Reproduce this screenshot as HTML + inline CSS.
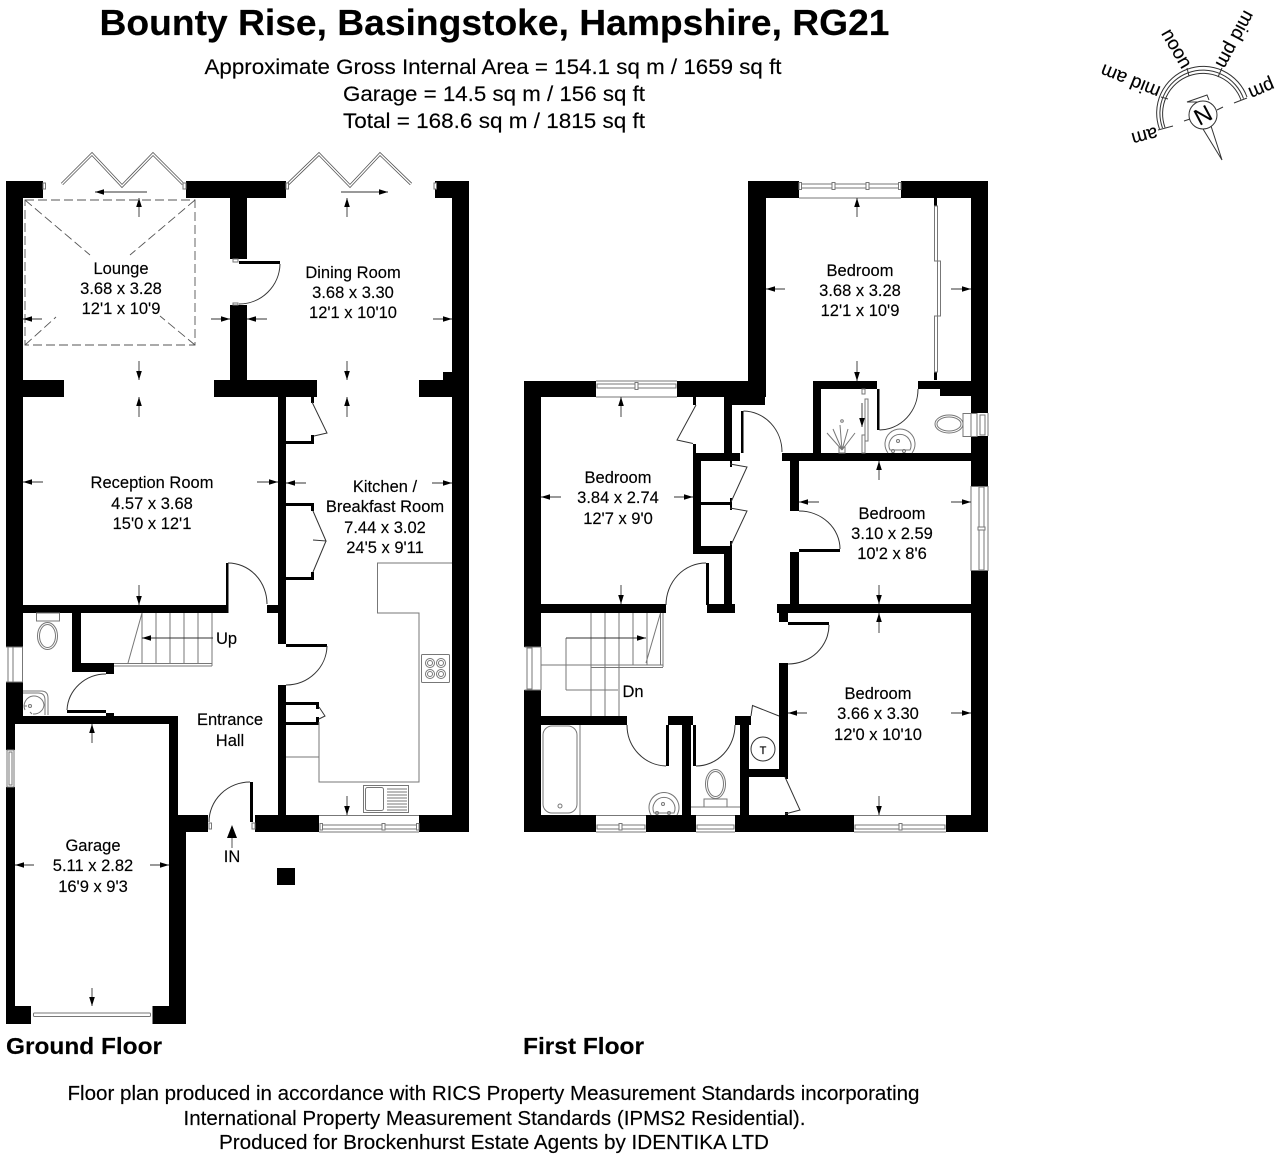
<!DOCTYPE html>
<html lang="en"><head><meta charset="utf-8"><title>Bounty Rise floor plan</title>
<style>
html,body{margin:0;padding:0;background:#fff}
svg{display:block}
text{font-family:"Liberation Sans",Arial,sans-serif;fill:#000;stroke:#000;stroke-width:.15}
.r text,text.r{font-size:16.5px;text-anchor:middle}
.ar line{stroke:#333;stroke-width:.9;marker-end:url(#a)}
.th{fill:none;stroke:#333;stroke-width:1}
.gr{fill:none;stroke:#777;stroke-width:1}
.wn{fill:#fff;stroke:#777;stroke-width:1}
.dash{fill:none;stroke:#555;stroke-width:.9;stroke-dasharray:9 4}
</style></head><body>
<svg width="1280" height="1160" viewBox="0 0 1280 1160" xmlns="http://www.w3.org/2000/svg">
<defs><marker id="a" markerUnits="userSpaceOnUse" markerWidth="10" markerHeight="7" refX="9" refY="3.5" orient="auto"><path d="M0,0.7L9,3.5L0,6.3z" fill="#000"/></marker></defs>
<rect width="1280" height="1160" fill="#fff"/>

<!-- headings -->
<text x="494.5" y="35" font-size="36" font-weight="700" text-anchor="middle" textLength="790" lengthAdjust="spacingAndGlyphs">Bounty Rise, Basingstoke, Hampshire, RG21</text>
<text x="493" y="74" font-size="21.500" text-anchor="middle" textLength="577" lengthAdjust="spacingAndGlyphs">Approximate Gross Internal Area = 154.1 sq m / 1659 sq ft</text>
<text x="494" y="101" font-size="21.500" text-anchor="middle" textLength="302" lengthAdjust="spacingAndGlyphs">Garage = 14.5 sq m / 156 sq ft</text>
<text x="494" y="128" font-size="21.500" text-anchor="middle" textLength="302" lengthAdjust="spacingAndGlyphs">Total = 168.6 sq m / 1815 sq ft</text>
<text x="6" y="1054" font-size="23.500" font-weight="700" textLength="156" lengthAdjust="spacingAndGlyphs">Ground Floor</text>
<text x="523" y="1054" font-size="23.500" font-weight="700" textLength="121" lengthAdjust="spacingAndGlyphs">First Floor</text>
<text x="493.500" y="1100" font-size="20" text-anchor="middle" textLength="852" lengthAdjust="spacingAndGlyphs">Floor plan produced in accordance with RICS Property Measurement Standards incorporating</text>
<text x="494.500" y="1125" font-size="20" text-anchor="middle" textLength="622" lengthAdjust="spacingAndGlyphs">International Property Measurement Standards (IPMS2 Residential).</text>
<text x="494" y="1149" font-size="20" text-anchor="middle" textLength="550" lengthAdjust="spacingAndGlyphs">Produced for Brockenhurst Estate Agents by IDENTIKA LTD</text>

<!-- compass -->
<g fill="none" stroke="#333" stroke-width="1">
<path d="M1159.500,129 A46,46 0 0 1 1247,97"/>
<path d="M1162.500,128 A43,43 0 0 1 1243.500,98.500"/>
<path d="M1165,127.500 A40,40 0 0 1 1241,100"/>
<path d="M1158,130L1173,126M1247,98L1234,103M1187,68L1189,76M1222,68L1218,77M1161,97L1168,99"/>
<circle cx="1203" cy="115" r="14"/>
<path d="M1203,129L1222,160L1211,126M1184,121L1190,119M1217,110L1223,107M1197,102L1187,102L1207,95L1209,100"/>
</g>
<text transform="translate(1203,115) rotate(-28)" font-size="23" text-anchor="middle" dy="8">N</text>
<g font-size="19" text-anchor="middle">
<text transform="translate(1177.500,48) rotate(60)" dy="7">noon</text>
<text transform="translate(1236,40) rotate(118)" dy="7">mid pm</text>
<text transform="translate(1262,90) rotate(157)" dy="7">pm</text>
<text transform="translate(1145,137) rotate(165)" dy="7">am</text>
<text transform="translate(1130,82) rotate(202)" dy="7">mid am</text>
</g>

<!-- ===== GROUND FLOOR WALLS ===== -->
<g fill="#000">
<rect x="6" y="181" width="37" height="17"/>
<rect x="186" y="181" width="100" height="17"/>
<rect x="435" y="181" width="34" height="17"/>
<rect x="6" y="181" width="17" height="466"/>
<rect x="452" y="181" width="17" height="651"/>
<rect x="230" y="198" width="17" height="61"/>
<rect x="230" y="305" width="17" height="76"/>
<rect x="6" y="380" width="58" height="17"/>
<rect x="214" y="380" width="103" height="17"/>
<rect x="419" y="380" width="50" height="17"/>
<rect x="443" y="372" width="10" height="9"/>
<rect x="278" y="397" width="8" height="247"/>
<rect x="278" y="685" width="8" height="147"/>
<rect x="311" y="397" width="3" height="6"/>
<rect x="286" y="441" width="27" height="3"/><rect x="311" y="435" width="3" height="9"/>
<rect x="286" y="503" width="27" height="3"/><rect x="311" y="503" width="3" height="8"/>
<rect x="286" y="577" width="27" height="3"/><rect x="311" y="572" width="3" height="8"/>
<rect x="286" y="702" width="33" height="3"/><rect x="316" y="702" width="3" height="7"/>
<rect x="286" y="722" width="33" height="3"/><rect x="316" y="717" width="3" height="8"/>
<rect x="6" y="605" width="220" height="8"/>
<rect x="226" y="563" width="2.500" height="50"/>
<rect x="267" y="605" width="12" height="8"/>
<rect x="72" y="613" width="9" height="59"/>
<rect x="72" y="663" width="42" height="9"/>
<rect x="106" y="663" width="8" height="11"/>
<rect x="6" y="682" width="17" height="34"/>
<rect x="6" y="716" width="172" height="8"/>
<rect x="6" y="716" width="9" height="34"/>
<rect x="6" y="787" width="9" height="237"/>
<rect x="67" y="710" width="39" height="3"/><rect x="106" y="713" width="8" height="3"/>
<rect x="169" y="716" width="9" height="100"/>
<rect x="169" y="815" width="39" height="17"/>
<rect x="169" y="832" width="17" height="192"/>
<rect x="6" y="1006" width="25" height="18"/>
<rect x="152.500" y="1006" width="33.500" height="18"/>
<rect x="255" y="815" width="64" height="17"/>
<rect x="419" y="815" width="50" height="17"/>
<rect x="250" y="782" width="3" height="40"/>
<rect x="286" y="644" width="41" height="3"/>
<rect x="239" y="261" width="41" height="3"/>
<rect x="277" y="868" width="18" height="17"/>
</g>

<!-- ground fittings -->
<g class="th">
<path d="M228,563A39,41 0 0 1 267,604"/>
<path d="M106,674A39,38 0 0 0 67,710"/>
<path d="M250,782A41,40 0 0 0 209,822"/>
<path d="M327,646A41,40 0 0 1 286,685"/>
<path d="M280,264A41,41 0 0 1 239,304"/>
<path d="M312,402L327,433L314,436"/>
<path d="M313,511L326,541L313,540M326,541L313,572"/>
<path d="M319,707L325,716L319,719"/>
</g>
<g fill="none" stroke="#555" stroke-width="3"><polyline points="62,184 92,154 122,186 153,154 183,184"/><polyline points="288,184 319,154 350,186 380,154 411,184"/></g>
<g fill="none" stroke="#fff" stroke-width="1.400"><polyline points="62,184 92,154 122,186 153,154 183,184"/><polyline points="288,184 319,154 350,186 380,154 411,184"/></g>
<g class="wn">
<rect x="43" y="183" width="2.500" height="6"/><rect x="183" y="183" width="3" height="6"/><rect x="286" y="183" width="2.500" height="6"/><rect x="434" y="183" width="2.500" height="6"/>
<rect x="233" y="259" width="5" height="3"/><rect x="233" y="303" width="5" height="2"/>
<rect x="209" y="823" width="2.500" height="6"/><rect x="252" y="823" width="3" height="6"/>
</g>
<rect class="dash" x="25" y="200" width="170" height="145"/>
<path class="dash" d="M25,200L90,255M195,200L130,255M25,345L56,317M195,345L160,316"/>
<g class="gr">
<polyline points="452,563 377.500,563 377.500,613 419,613 419,782 319,782 319,722"/>
<path d="M286,757H319"/>
<rect x="421.500" y="654.500" width="28" height="28" rx="1"/>
<circle cx="430" cy="663" r="4.500"/><circle cx="441" cy="663" r="4.500"/><circle cx="430" cy="674" r="4.500"/><circle cx="441" cy="674" r="4.500"/>
<circle cx="430" cy="663" r="2.500"/><circle cx="441" cy="663" r="2.500"/><circle cx="430" cy="674" r="2.500"/><circle cx="441" cy="674" r="2.500"/>
<rect x="363.500" y="785.500" width="45" height="27"/>
<rect x="365.500" y="787.500" width="18" height="23" rx="2"/>
<path d="M387,789H407M387,792H407M387,795H407M387,798H407M387,801H407M387,804H407M387,807H407M387,810H407"/>
<path d="M142,613V664M156,613V664M170,613V664M184,613V664M198,613V664M212,613V666M114,663.500H212M114,666H212"/>
<path d="M142,613L128,663"/>
<rect x="36.500" y="613" width="23" height="8"/>
<ellipse cx="47.500" cy="636" rx="10" ry="13.500"/><ellipse cx="47.500" cy="636" rx="8" ry="11.500"/>
<path d="M23,691H41Q48,691 48,698V715M23,693H38Q45,693 45,700V715"/>
<circle cx="30" cy="706" r="1.500"/><path d="M24,706L27,706M30,712L32,714M25,710A10,10 0 0 1 33,696A10,10 0 0 1 44,705A10,10 0 0 1 33,714"/>
<rect x="33.500" y="1013" width="117" height="3.500" rx="1"/>
</g>
<!-- ground windows -->
<g class="wn">
<rect x="7" y="647" width="15.500" height="35" stroke="none"/>
<path d="M22.500,647V682" fill="none"/><rect x="8" y="647" width="5" height="35"/><path d="M6,647H23M6,682H23"/>
<rect x="7" y="750" width="7" height="37"/>
<rect x="9" y="752" width="3" height="33"/>
<path d="M319,815.500H419M319,832H419" fill="none"/>
<rect x="320" y="825" width="98" height="4"/><rect x="382" y="823.500" width="3" height="6.500"/><rect x="416.500" y="823.500" width="2.500" height="6.500"/><rect x="320" y="823.500" width="2.500" height="6.500"/>
</g>
<g class="th"><line x1="232" y1="848" x2="232" y2="835" stroke="#555"/></g>
<path d="M232,825L237,838H227z" fill="#000"/>
<path d="M142,638H213" class="gr"/>

<g class="ar">
<line x1="139" y1="217" x2="139" y2="198"/><line x1="139" y1="361" x2="139" y2="380"/><line x1="139" y1="417" x2="139" y2="397"/>
<line x1="347" y1="217" x2="347" y2="198"/><line x1="347" y1="361" x2="347" y2="380"/><line x1="347" y1="417" x2="347" y2="397"/>
<line x1="42" y1="319" x2="23" y2="319"/><line x1="211" y1="319" x2="230" y2="319"/>
<line x1="267" y1="319" x2="247" y2="319"/><line x1="433" y1="319" x2="452" y2="319"/>
<line x1="147" y1="192" x2="95" y2="192"/><line x1="341" y1="192" x2="388" y2="192"/>
<line x1="43" y1="482" x2="23" y2="482"/><line x1="257" y1="482" x2="278" y2="482"/>
<line x1="306" y1="483" x2="286" y2="483"/><line x1="432" y1="483" x2="452" y2="483"/>
<line x1="139" y1="585" x2="139" y2="605"/><line x1="347" y1="796" x2="347" y2="815"/>
<line x1="92" y1="743" x2="92" y2="724"/><line x1="92" y1="988" x2="92" y2="1006"/>
<line x1="34" y1="865" x2="15" y2="865"/><line x1="150" y1="865" x2="169" y2="865"/>
<line x1="213" y1="638" x2="142" y2="638"/>
</g>

<!-- ===== FIRST FLOOR WALLS ===== -->
<g fill="#000">
<rect x="748" y="181" width="51" height="17"/>
<rect x="901" y="181" width="87" height="17"/>
<rect x="748" y="181" width="18" height="216"/>
<rect x="971" y="181" width="17" height="232"/>
<rect x="971" y="436" width="17" height="50"/>
<rect x="971" y="571" width="17" height="261"/>
<rect x="524" y="381" width="72" height="16"/>
<rect x="677" y="381" width="88" height="16"/>
<rect x="724" y="397" width="41" height="8"/>
<rect x="524" y="381" width="17" height="266"/>
<rect x="524" y="690" width="17" height="142"/>
<rect x="724" y="405" width="8" height="56"/>
<rect x="693" y="453" width="47" height="8"/>
<rect x="693" y="397" width="3" height="8"/><rect x="693" y="444" width="3" height="9"/>
<rect x="693" y="453" width="8" height="101"/>
<rect x="693" y="546" width="39" height="8"/>
<rect x="701" y="502" width="29" height="3"/>
<rect x="730" y="461" width="2" height="6"/><rect x="730" y="498" width="2" height="12"/><rect x="730" y="541" width="2" height="6"/>
<rect x="724" y="554" width="8" height="52"/>
<rect x="706" y="563" width="3" height="42"/>
<rect x="707" y="604" width="28" height="9"/>
<rect x="741" y="411" width="2.500" height="42"/>
<rect x="813" y="381" width="64" height="8"/>
<rect x="813" y="381" width="8" height="72"/>
<rect x="877" y="389" width="2.500" height="41"/>
<rect x="918" y="381" width="53" height="8"/>
<rect x="940" y="389" width="31" height="7"/>
<rect x="782" y="453" width="189" height="8"/>
<rect x="790" y="461" width="9" height="50"/>
<rect x="790" y="552" width="9" height="53"/>
<rect x="799" y="549" width="41" height="3"/>
<rect x="777" y="604" width="194" height="9"/>
<rect x="779" y="613" width="9" height="9"/>
<rect x="788" y="622" width="41" height="3"/>
<rect x="779" y="663" width="9" height="114"/>
<rect x="541" y="604" width="125" height="9"/>
<rect x="524" y="716" width="103" height="9"/>
<rect x="668" y="716" width="25" height="9"/>
<rect x="666" y="725" width="3" height="41"/>
<rect x="682" y="725" width="9" height="91"/>
<rect x="693" y="725" width="3" height="41"/>
<rect x="735" y="716" width="16" height="9"/>
<rect x="740" y="725" width="9" height="91"/>
<rect x="749" y="769" width="39" height="8"/>
<rect x="785" y="777" width="3" height="2"/><rect x="785" y="812" width="3" height="3"/>
<rect x="524" y="815" width="72" height="17"/>
<rect x="646" y="815" width="50" height="17"/>
<rect x="735" y="815" width="119" height="17"/>
<rect x="946" y="815" width="42" height="17"/>
<rect x="934" y="198" width="3" height="8"/><rect x="934" y="372" width="3" height="8"/>
</g>

<!-- first floor fittings -->
<g class="th">
<path d="M743.500,411A39,41 0 0 1 782,452"/>
<path d="M879.500,430A39,41 0 0 0 918,389"/>
<path d="M799,511A41,38 0 0 1 840,549"/>
<path d="M829,625A41,39 0 0 1 788,664"/>
<path d="M706,563A40,42 0 0 0 666,605"/>
<path d="M627,725A40,41 0 0 0 666,766"/>
<path d="M696,766A39,41 0 0 0 735,725"/>
<path d="M696,405L677,440L693,443.500"/>
<path d="M730,464L747,467L731,502"/>
<path d="M730,508L747,511L731,545"/>
<path d="M751,716L752.500,705.500L779,716"/>
<path d="M785,777L800,810L785,814"/>
<circle cx="763" cy="749" r="12"/>
</g>
<text x="763" y="754" font-size="11" text-anchor="middle">T</text>
<g class="gr">
<rect x="934.500" y="206" width="3" height="55"/><rect x="937.500" y="261" width="3" height="55"/><rect x="934.500" y="316" width="3" height="56"/>
<path d="M591,613V716M605,613V716M619,613V716M633,613V665M647,613V665M660.500,613V665M663,613V667M541,665H663M591,667.500H663"/>
<path d="M660.500,613L646,663"/>
<path d="M566,690H618M566,638V690"/>
<rect x="543" y="726" width="34" height="87" rx="9"/><path d="M580,725V815"/><circle cx="560" cy="806" r="2"/>
<path d="M691,807H740"/>
<rect x="704" y="799" width="23" height="8"/><ellipse cx="715.500" cy="784" rx="10" ry="14.500"/><ellipse cx="715.500" cy="784" rx="8" ry="12.500"/>
<path d="M651,815A15,15 0 1 1 677,815"/><path d="M654,813A11,11 0 1 1 674,813Z"/><circle cx="663" cy="804" r="1.500"/><circle cx="657" cy="813" r="1.500"/><circle cx="669" cy="813" r="1.500"/>
<path d="M888,453A15,15 0 1 1 912,453"/><path d="M890,450A11,11 0 1 1 910,450Z"/><circle cx="898" cy="441" r="1.500"/><circle cx="893" cy="451" r="1.500"/><circle cx="904" cy="451" r="1.500"/>
<ellipse cx="949" cy="424" rx="14" ry="9"/><ellipse cx="949" cy="424" rx="12" ry="7"/><rect x="963" y="413.500" width="14" height="23"/>
<rect x="862" y="389" width="3" height="5"/><rect x="865" y="399" width="3" height="42"/><rect x="862" y="435" width="3" height="18"/>
<path d="M842,450L827,433M842,450L833,429M842,450L840,425M842,450L848,429M842,450L855,433" /><circle cx="842" cy="421" r="1.300"/><rect x="839" y="447" width="6" height="6"/>
</g>
<!-- first windows -->
<g class="wn">
<path d="M799,198H901M596,397H677M596,381H677M596,815.500H646M596,832H646M696,815.500H735M696,832H735M854,815.500H946M854,832H946M971,486V571M988,486V571M541,647V690" fill="none"/>
<rect x="800" y="184" width="100" height="4"/><rect x="832" y="182.500" width="3" height="7"/><rect x="866" y="182.500" width="3" height="7"/><rect x="799" y="182.500" width="2.500" height="7"/><rect x="898.500" y="182.500" width="2.500" height="7"/>
<rect x="597" y="384" width="79" height="4"/><rect x="635" y="382.500" width="3" height="7"/>
<rect x="597" y="825" width="48" height="4"/><rect x="619" y="823.500" width="3" height="6.500"/>
<rect x="697" y="825" width="37" height="4"/>
<rect x="855" y="825" width="90" height="4"/><rect x="899" y="823.500" width="3" height="6.500"/>
<rect x="979" y="487" width="5" height="83"/><rect x="978" y="527" width="7" height="3"/>
<rect x="980" y="415" width="5" height="20"/>
<rect x="527" y="648" width="5" height="41"/>
<path d="M971,413V436M988,413V436M524.500,647H541M524.500,690H541M971,486.500H988M971,570.500H988" fill="none"/>
</g>

<g class="ar">
<line x1="857" y1="217" x2="857" y2="198"/><line x1="857" y1="361" x2="857" y2="381"/>
<line x1="785" y1="289" x2="766" y2="289"/><line x1="951" y1="289" x2="971" y2="289"/>
<line x1="621" y1="417" x2="621" y2="397"/><line x1="621" y1="585" x2="621" y2="604"/>
<line x1="561" y1="497" x2="541" y2="497"/><line x1="674" y1="497" x2="693" y2="497"/>
<line x1="879" y1="480" x2="879" y2="461"/><line x1="879" y1="585" x2="879" y2="604"/>
<line x1="819" y1="502" x2="799" y2="502"/><line x1="951" y1="502" x2="971" y2="502"/>
<line x1="879" y1="633" x2="879" y2="613"/><line x1="879" y1="796" x2="879" y2="815"/>
<line x1="807" y1="713" x2="788" y2="713"/><line x1="951" y1="713" x2="971" y2="713"/>
<line x1="566" y1="638" x2="646" y2="638"/>
<line x1="862" y1="403" x2="862" y2="427"/>
</g>

<!-- room labels -->
<g class="r">
<text x="121" y="274">Lounge</text><text x="121" y="294">3.68 x 3.28</text><text x="121" y="314">12'1 x 10'9</text>
<text x="353" y="278">Dining Room</text><text x="353" y="298">3.68 x 3.30</text><text x="353" y="318">12'1 x 10'10</text>
<text x="152" y="488">Reception Room</text><text x="152" y="509">4.57 x 3.68</text><text x="152" y="529">15'0 x 12'1</text>
<text x="385" y="492">Kitchen /</text><text x="385" y="512">Breakfast Room</text><text x="385" y="533">7.44 x 3.02</text><text x="385" y="553">24'5 x 9'11</text>
<text x="230" y="725">Entrance</text><text x="230" y="746">Hall</text>
<text x="93" y="851">Garage</text><text x="93" y="871">5.11 x 2.82</text><text x="93" y="892">16'9 x 9'3</text>
<text x="226.500" y="644">Up</text><text x="232" y="862">IN</text>
<text x="860" y="276">Bedroom</text><text x="860" y="296">3.68 x 3.28</text><text x="860" y="316">12'1 x 10'9</text>
<text x="618" y="483">Bedroom</text><text x="618" y="503">3.84 x 2.74</text><text x="618" y="524">12'7 x 9'0</text>
<text x="892" y="519">Bedroom</text><text x="892" y="539">3.10 x 2.59</text><text x="892" y="559">10'2 x 8'6</text>
<text x="878" y="699">Bedroom</text><text x="878" y="719">3.66 x 3.30</text><text x="878" y="740">12'0 x 10'10</text>
<text x="633" y="697">Dn</text>
</g>
</svg>
</body></html>
